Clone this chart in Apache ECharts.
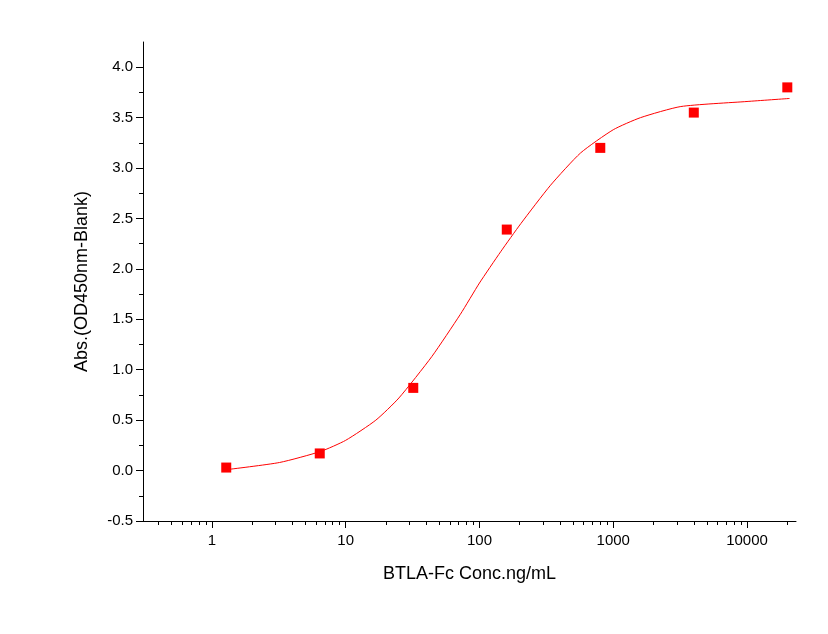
<!DOCTYPE html><html><head><meta charset="utf-8"><script src="https://cdn.jsdelivr.net/npm/echarts@6/dist/echarts.min.js"></script></head><body style="margin:0"><div id="c" style="width:828px;height:634px"></div><script>
const conc=[1.28,6.4,32,160,800,4000,20000];
const od=[0.03,0.17,0.82,2.39,3.2,3.55,3.8];
const fitConc=[1.3,3.2,6.5,10,16.8,25,44,72,100,144,204,340,570,1000,1600,3200,10000,20800];
const fitOd=[0.01,0.08,0.19,0.30,0.50,0.72,1.13,1.55,1.86,2.17,2.45,2.83,3.15,3.38,3.5,3.61,3.66,3.69];
const xTickLabels=['1','10','100','1000','10000'];
const yTicks=[-0.5,0,0.5,1,1.5,2,2.5,3,3.5,4];
const L=Math.log10;
const major=[0,1,2,3,4];
const minor=[];for(let e=-1;e<=4;e++)for(let k=2;k<=9;k++){const v=e+L(k);if(v>-0.515&&v<4.366)minor.push(v);}
const yMinor=[];for(let v=-0.25;v<4.25;v+=0.5)yMinor.push(v);
const font='Liberation Sans, Arial, sans-serif';
const c=echarts.init(document.getElementById('c'));
c.setOption({animation:false,
grid:{left:143,right:32,top:42,bottom:113},
xAxis:[{type:'value',min:-0.515,max:4.366,axisLine:{onZero:false,lineStyle:{color:'#000',width:1}},splitLine:{show:false},
 axisTick:{customValues:major,length:7,lineStyle:{color:'#000'}},
 axisLabel:{customValues:major,formatter:v=>xTickLabels[Math.round(v)],color:'#000',fontSize:15,fontFamily:font,margin:12},
 name:'BTLA-Fc Conc.ng/mL',nameLocation:'middle',nameGap:44,nameTextStyle:{fontSize:18,fontFamily:font,color:'#000'}},
 {type:'value',min:-0.515,max:4.366,position:'bottom',axisLine:{show:false,onZero:false},splitLine:{show:false},axisLabel:{show:false},
 axisTick:{customValues:minor,length:4,lineStyle:{color:'#000'}}}],
yAxis:[{type:'value',min:-0.5,max:4.25,axisLine:{show:true,onZero:false,lineStyle:{color:'#000'}},splitLine:{show:false},
 axisTick:{customValues:yTicks,length:7,lineStyle:{color:'#000'}},
 axisLabel:{customValues:yTicks,formatter:v=>v.toFixed(1),color:'#000',fontSize:15,fontFamily:font,margin:10},
 name:'Abs.(OD450nm-Blank)',nameLocation:'middle',nameGap:52,nameTextStyle:{fontSize:18,fontFamily:font,color:'#000'}},
 {type:'value',min:-0.5,max:4.25,position:'left',axisLine:{show:false,onZero:false},splitLine:{show:false},axisLabel:{show:false},
 axisTick:{show:true,customValues:yMinor,length:4,lineStyle:{color:'#000'}}}],
series:[{type:'line',data:fitConc.map((x,i)=>[L(x),fitOd[i]]),smooth:0.2,showSymbol:false,lineStyle:{color:'#f00',width:1},z:2},
{type:'scatter',data:conc.map((x,i)=>[L(x),od[i]]),symbol:'rect',symbolSize:10,itemStyle:{color:'#f00',opacity:1},z:3}]});
</script></body></html>
